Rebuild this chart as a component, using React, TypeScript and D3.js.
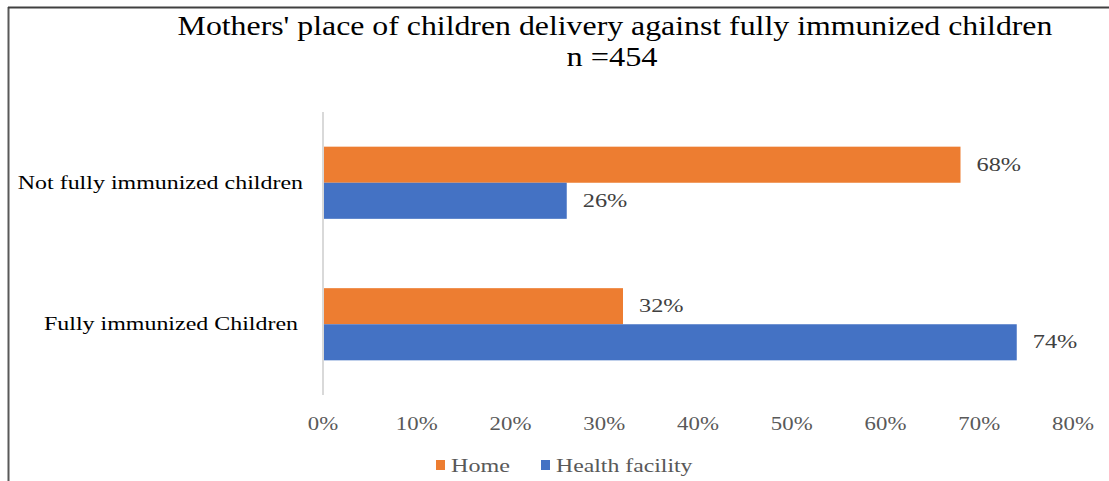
import React from "react";
import * as d3 from "d3";

const categories = ["Not fully immunized children", "Fully immunized Children"];
const seriesNames = ["Home", "Health facility"];
const homeValues = [0.68, 0.32];
const facilityValues = [0.26, 0.74];
const xTicks = [0, 0.1, 0.2, 0.3, 0.4, 0.5, 0.6, 0.7, 0.8];
const colors = ["#ED7D31", "#4472C4"];

const W = 1109;
const H = 481;

function SText(props: {
  x: number;
  y: number;
  sx: number;
  size: number;
  fill: string;
  anchor?: string;
  baseline?: string;
  children: React.ReactNode;
}) {
  const { x, y, sx, size, fill, anchor, baseline, children } = props;
  return (
    <text
      transform={`translate(${x},${y}) scale(${sx},1)`}
      x={0}
      y={0}
      textAnchor={anchor || "start"}
      dominantBaseline={baseline || "auto"}
      fontSize={size}
      fill={fill}
    >
      {children}
    </text>
  );
}

export default function App() {
  const x = d3.scaleLinear().domain([0, 0.8]).range([323, 1073]);
  const y = d3.scaleBand<string>().domain(categories).range([112, 395]).paddingInner(0.49).paddingOuter(0.245);
  const sub = d3.scaleBand<string>().domain(seriesNames).range([0, y.bandwidth()]);
  const series = [homeValues, facilityValues];
  const fmt = d3.format(".0%");
  const font = "'Liberation Serif', 'Times New Roman', serif";

  return (
    <svg width={W} height={H} style={{ position: "absolute", left: 0, top: 0, background: "#fff" }} fontFamily={font}>
      <rect x={0} y={0} width={W} height={H} fill="#fff" />
      <line x1={8.5} y1={7} x2={8.5} y2={H} stroke="#595959" strokeWidth={2} />
      <line x1={8} y1={7.5} x2={W} y2={7.5} stroke="#404040" strokeWidth={2} />
      <SText x={615} y={35} sx={1.178} size={27} fill="#000" anchor="middle">
        Mothers' place of children delivery against fully immunized children
      </SText>
      <SText x={612} y={66} sx={1.2} size={27} fill="#000" anchor="middle">n =454</SText>
      {categories.map((c, i) => (
        <g key={c}>
          {series.map((vals, s) => (
            <g key={s}>
              <rect
                x={x(0)}
                y={(y(c) as number) + (sub(seriesNames[s]) as number)}
                width={x(vals[i]) - x(0)}
                height={sub.bandwidth()}
                fill={colors[s]}
              />
              <SText
                x={x(vals[i]) + 16}
                y={(y(c) as number) + (sub(seriesNames[s]) as number) + sub.bandwidth() / 2}
                sx={1.28}
                baseline="central"
                size={19}
                fill="#404040"
              >
                {fmt(vals[i])}
              </SText>
            </g>
          ))}
          <SText
            x={i === 0 ? 303 : 298}
            y={(y(c) as number) + y.bandwidth() / 2}
            sx={1.26}
            anchor="end"
            baseline="central"
            size={19}
            fill="#000"
          >
            {c}
          </SText>
        </g>
      ))}
      <line x1={x(0)} y1={112} x2={x(0)} y2={395} stroke="#d9d9d9" strokeWidth={2} />
      {xTicks.map((t) => (
        <SText key={t} x={x(t)} y={430} sx={1.2} size={19} fill="#595959" anchor="middle">
          {fmt(t)}
        </SText>
      ))}
      <g>
        <rect x={436} y={460} width={9} height={10} fill={colors[0]} />
        <SText x={451} y={472} sx={1.27} size={19} fill="#595959">{seriesNames[0]}</SText>
        <rect x={541} y={460} width={9} height={10} fill={colors[1]} />
        <SText x={556} y={472} sx={1.25} size={19} fill="#595959">{seriesNames[1]}</SText>
      </g>
    </svg>
  );
}
